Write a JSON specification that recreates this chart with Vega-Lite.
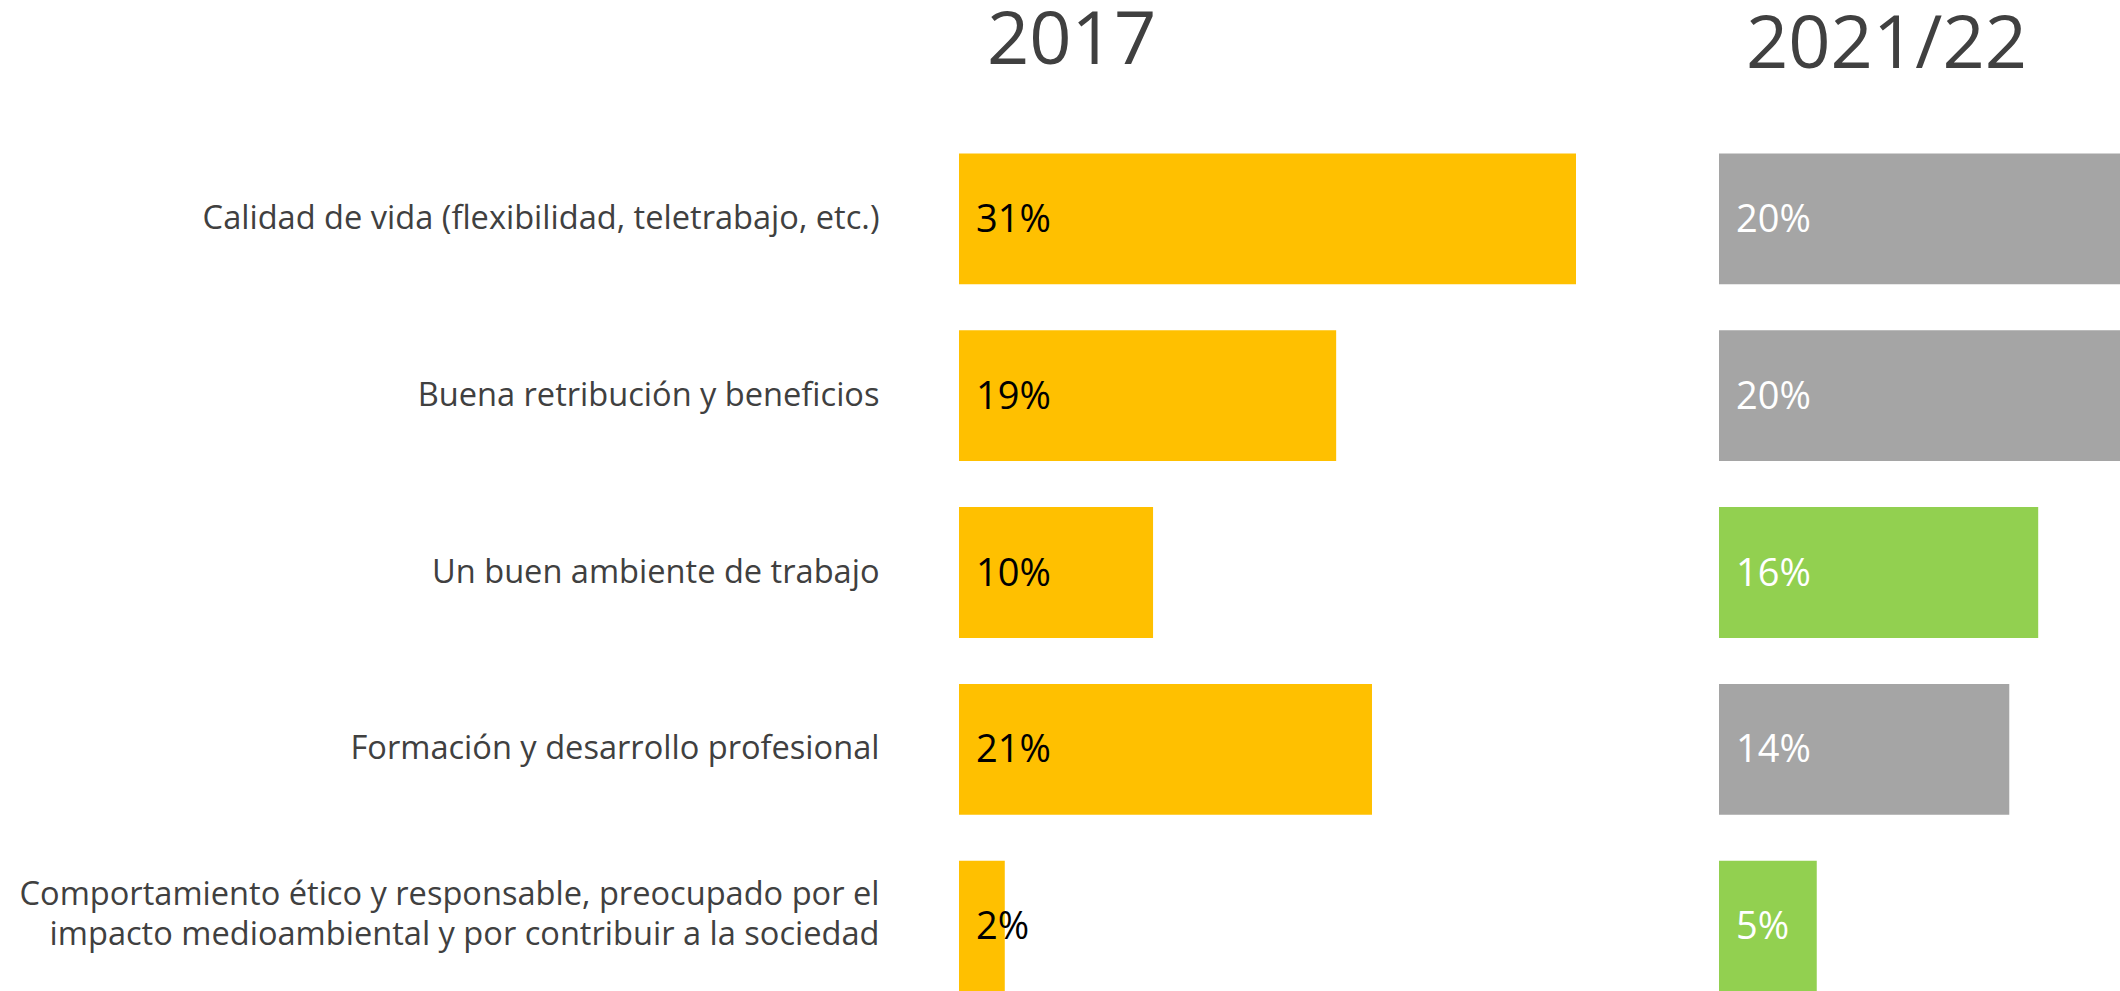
{
  "$schema": "https://vega.github.io/schema/vega-lite/v6.json",
  "background": "white",
  "padding": {"left": 19, "top": 4.5, "right": 0, "bottom": 0},
  "autosize": {"type": "pad"},
  "bounds": "flush",
  "spacing": 143,
  "config": {"view": {"stroke": null}, "font": "Open Sans"},
  "data": {"values": [
    {"motivo": "Calidad de vida (flexibilidad, teletrabajo, etc.)", "v2017": 31, "t2017": "31%", "v2021": 20.1, "t2021": "20%", "cambio": "baja"},
    {"motivo": "Buena retribución y beneficios", "v2017": 18.95, "t2017": "19%", "v2021": 20.1, "t2021": "20%", "cambio": "estable"},
    {"motivo": "Un buen ambiente de trabajo", "v2017": 9.75, "t2017": "10%", "v2021": 16, "t2021": "16%", "cambio": "sube"},
    {"motivo": "Formación y desarrollo profesional", "v2017": 20.75, "t2017": "21%", "v2021": 14.55, "t2021": "14%", "cambio": "baja"},
    {"motivo": "Comportamiento ético y responsable, preocupado por el|impacto medioambiental y por contribuir a la sociedad", "v2017": 2.3, "t2017": "2%", "v2021": 4.9, "t2021": "5%", "cambio": "sube"}
  ]},
  "hconcat": [
    {
      "width": 617,
      "height": 838,
      "title": {"text": "2017", "anchor": "start", "frame": "group", "dx": 28, "fontSize": 74, "fontWeight": "normal", "color": "#404040", "font": "Open Sans", "baseline": "alphabetic", "offset": 15.5},
      "encoding": {
        "y": {"field": "motivo", "type": "nominal", "sort": null,
          "scale": {"paddingInner": 0.26, "paddingOuter": 0},
          "axis": {"title": null, "domain": false, "ticks": false, "labelPadding": 80, "labelFontSize": 32.6, "labelColor": "#404040", "labelFont": "Open Sans", "labelLimit": 2000, "labelLineHeight": 40, "labelAlign": "right", "labelExpr": "split(datum.label, '|')",
            "labelOffset": {"condition": {"test": "indexof(datum.value, '|') >= 0", "value": -31}, "value": 0}}}
      },
      "layer": [
        {"mark": {"type": "bar", "color": "#FFC000"},
         "encoding": {"x": {"field": "v2017", "type": "quantitative", "scale": {"domain": [0, 31], "nice": false}, "axis": null}}},
        {"mark": {"type": "text", "align": "left", "baseline": "middle", "dx": 17, "dy": 2, "fontSize": 38, "color": "#000000", "font": "Open Sans"},
         "encoding": {"x": {"datum": 0, "type": "quantitative"}, "text": {"field": "t2017"}}}
      ]
    },
    {
      "width": 401,
      "height": 838,
      "title": {"text": "2021/22", "anchor": "start", "frame": "group", "dx": 27, "fontSize": 74, "fontWeight": "normal", "color": "#404040", "font": "Open Sans", "baseline": "alphabetic", "offset": 11.5},
      "encoding": {
        "y": {"field": "motivo", "type": "nominal", "sort": null,
          "scale": {"paddingInner": 0.26, "paddingOuter": 0}, "axis": null}
      },
      "layer": [
        {"mark": {"type": "bar"},
         "encoding": {
           "x": {"field": "v2021", "type": "quantitative", "scale": {"domain": [0, 20.1], "nice": false}, "axis": null},
           "color": {"field": "cambio", "type": "nominal", "scale": {"domain": ["sube", "baja", "estable"], "range": ["#92D050", "#A5A5A5", "#A5A5A5"]}, "legend": null}}},
        {"mark": {"type": "text", "align": "left", "baseline": "middle", "dx": 17, "dy": 2, "fontSize": 38, "color": "#FFFFFF", "font": "Open Sans"},
         "encoding": {"x": {"datum": 0, "type": "quantitative"}, "text": {"field": "t2021"}}}
      ]
    }
  ]
}
